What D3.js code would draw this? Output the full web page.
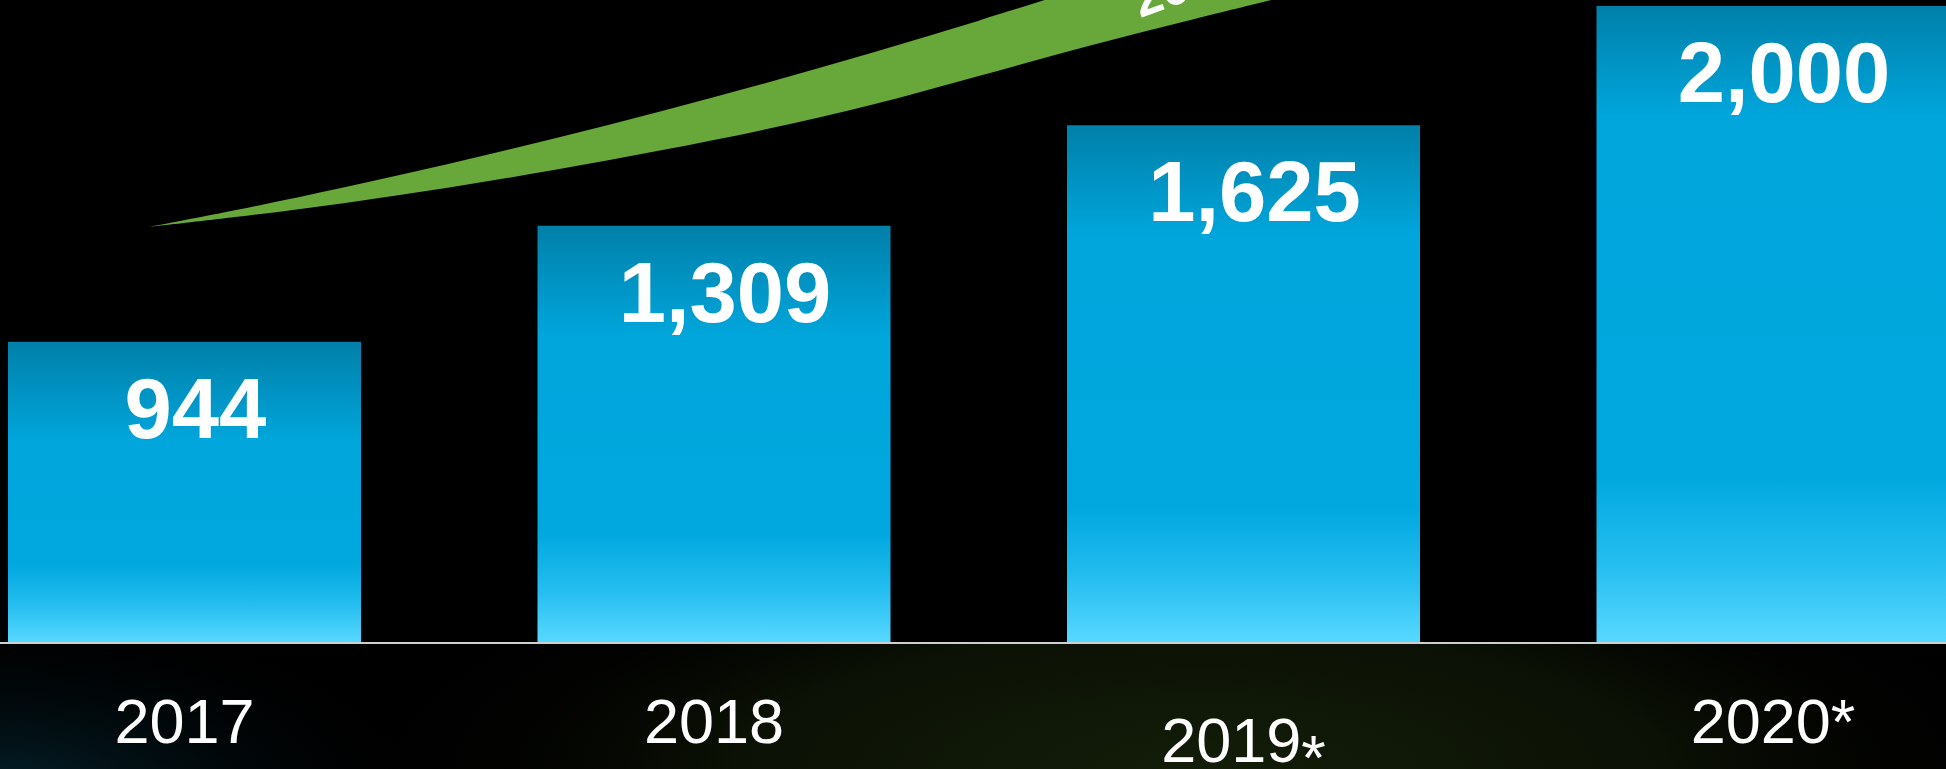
<!DOCTYPE html>
<html>
<head>
<meta charset="utf-8">
<script src="https://cdn.jsdelivr.net/npm/d3@7"></script>
<style>
  html, body { margin: 0; padding: 0; background: #000; overflow: hidden; }
  svg { display: block; }
</style>
</head>
<body>
<svg id="chart" width="1946" height="769"></svg>
<script>
// Annual volume, actual and forecast (*)
const categories = ["2017", "2018", "2019*", "2020*"];
const values = [944, 1309, 1625, 2000];
const valueLabels = ["944", "1,309", "1,625", "2,000"];

// Growth ribbon edges, in category-index units (x) and value units (y)
const ribbonUpperIdx = [-0.067, 0.1, 0.3, 0.5, 0.7, 0.9, 1.1, 1.3, 1.5, 1.7];
const ribbonUpperVal = [1305, 1359, 1429, 1504, 1584, 1669, 1759, 1854, 1954, 2059];
const ribbonLowerIdx = [-0.067, 0.1, 0.3, 0.5, 0.7, 0.9, 1.1, 1.3, 1.5, 1.7, 1.9, 2.1];
const ribbonLowerVal = [1305, 1337, 1380, 1429, 1485, 1546, 1613, 1690, 1780, 1871, 1956, 2038];
const ribbonLabel = "20%";
const ribbonLabelAt = [1.805, 1962];

const W = 1946, H = 769;
const svg = d3.select("#chart");
const defs = svg.append("defs");

// Scales
const x = d3.scaleBand()
  .domain(categories)
  .range([8, 8 + 529.5 * (categories.length - 1 / 3)])
  .paddingInner(1 / 3)
  .paddingOuter(0);
const y = d3.scaleLinear().domain([0, 2000]).range([642, 6]);
const xc = d3.scaleLinear()
  .domain([0, categories.length - 1])
  .range([x(categories[0]) + x.bandwidth() / 2, x(categories[categories.length - 1]) + x.bandwidth() / 2]);

// Floor glow below the baseline
const glowGreen = defs.append("radialGradient")
  .attr("id", "glowGreen").attr("gradientUnits", "userSpaceOnUse")
  .attr("cx", 1200).attr("cy", 769).attr("r", 850)
  .attr("gradientTransform", "translate(1200,769) scale(1,0.3) translate(-1200,-769)");
glowGreen.append("stop").attr("offset", 0).attr("stop-color", "#131d08").attr("stop-opacity", 1);
glowGreen.append("stop").attr("offset", 0.55).attr("stop-color", "#0b1105").attr("stop-opacity", 1);
glowGreen.append("stop").attr("offset", 1).attr("stop-color", "#000").attr("stop-opacity", 0);

const glowTeal = defs.append("radialGradient")
  .attr("id", "glowTeal").attr("gradientUnits", "userSpaceOnUse")
  .attr("cx", 0).attr("cy", 790).attr("r", 440)
  .attr("gradientTransform", "translate(0,790) scale(1,0.42) translate(0,-790)");
glowTeal.append("stop").attr("offset", 0).attr("stop-color", "#04222c").attr("stop-opacity", 1);
glowTeal.append("stop").attr("offset", 1).attr("stop-color", "#000").attr("stop-opacity", 0);

svg.append("rect").attr("width", W).attr("height", H).attr("fill", "#000");
const floorTop = y(0);
svg.append("rect").attr("x", 0).attr("y", floorTop).attr("width", W).attr("height", H - floorTop).attr("fill", "url(#glowGreen)");
svg.append("rect").attr("x", 0).attr("y", floorTop).attr("width", W).attr("height", H - floorTop).attr("fill", "url(#glowTeal)");

// Growth ribbon: upper edge forward, lower edge back to the tip
const edge = d3.line().x(d => xc(d[0])).y(d => y(d[1])).curve(d3.curveCatmullRom.alpha(0.5));
const upper = ribbonUpperIdx.map((v, i) => [v, ribbonUpperVal[i]]);
const lower = ribbonLowerIdx.map((v, i) => [v, ribbonLowerVal[i]]);
const ribbonPath = edge(upper) + "L" + edge(lower.slice().reverse()).slice(1) + "Z";
svg.append("path").attr("d", ribbonPath).attr("fill", "#68a739");

svg.append("text")
  .attr("transform", `translate(${xc(ribbonLabelAt[0])},${y(ribbonLabelAt[1])}) rotate(-20)`)
  .attr("font-family", "'Liberation Sans', Arial, sans-serif")
  .attr("font-weight", "bold")
  .attr("font-size", 50)
  .attr("fill", "#fff")
  .text(ribbonLabel);

// Bars with a per-bar vertical gradient
categories.forEach((c, i) => {
  const top = y(values[i]);
  const h = y(0) - top;
  const g = defs.append("linearGradient")
    .attr("id", "barGrad" + i)
    .attr("x1", 0).attr("y1", 0).attr("x2", 0).attr("y2", 1);
  g.append("stop").attr("offset", 0).attr("stop-color", "#0080a9");
  g.append("stop").attr("offset", Math.min(0.33, 110 / h)).attr("stop-color", "#00a6dc");
  g.append("stop").attr("offset", 0.74).attr("stop-color", "#00a8df");
  g.append("stop").attr("offset", 0.88).attr("stop-color", "#26bef0");
  g.append("stop").attr("offset", 1).attr("stop-color", "#58d8ff");
});

svg.append("g").selectAll("rect")
  .data(values)
  .join("rect")
  .attr("x", (d, i) => x(categories[i]))
  .attr("y", d => y(d))
  .attr("width", x.bandwidth())
  .attr("height", d => y(0) - y(d))
  .attr("fill", (d, i) => `url(#barGrad${i})`);

// Value labels inside bars
svg.append("g").selectAll("text")
  .data(values)
  .join("text")
  .attr("x", (d, i) => x(categories[i]) + x.bandwidth() / 2 + 11)
  .attr("y", d => y(d) + 96)
  .attr("text-anchor", "middle")
  .attr("font-family", "'Liberation Sans', Arial, sans-serif")
  .attr("font-weight", "bold")
  .attr("font-size", 85)
  .attr("fill", "#fff")
  .text((d, i) => valueLabels[i]);

// Baseline
svg.append("line")
  .attr("x1", 0).attr("x2", W)
  .attr("y1", y(0) + 1).attr("y2", y(0) + 1)
  .attr("stroke", "#cfcfcf").attr("stroke-width", 2);

// Category labels
const yearText = svg.append("g").selectAll("text")
  .data(categories)
  .join("text")
  .attr("x", c => x(c) + x.bandwidth() / 2)
  .attr("y", c => c === "2019*" ? 762 : 743)
  .attr("text-anchor", "middle")
  .attr("font-family", "'Liberation Sans', Arial, sans-serif")
  .attr("font-size", 63)
  .attr("fill", "#fff");

yearText.append("tspan").text(c => c.replace("*", ""));
yearText.filter(c => c.endsWith("*"))
  .append("tspan")
  .attr("dy", c => c === "2019*" ? 17 : 0)
  .text("*");
</script>
</body>
</html>
